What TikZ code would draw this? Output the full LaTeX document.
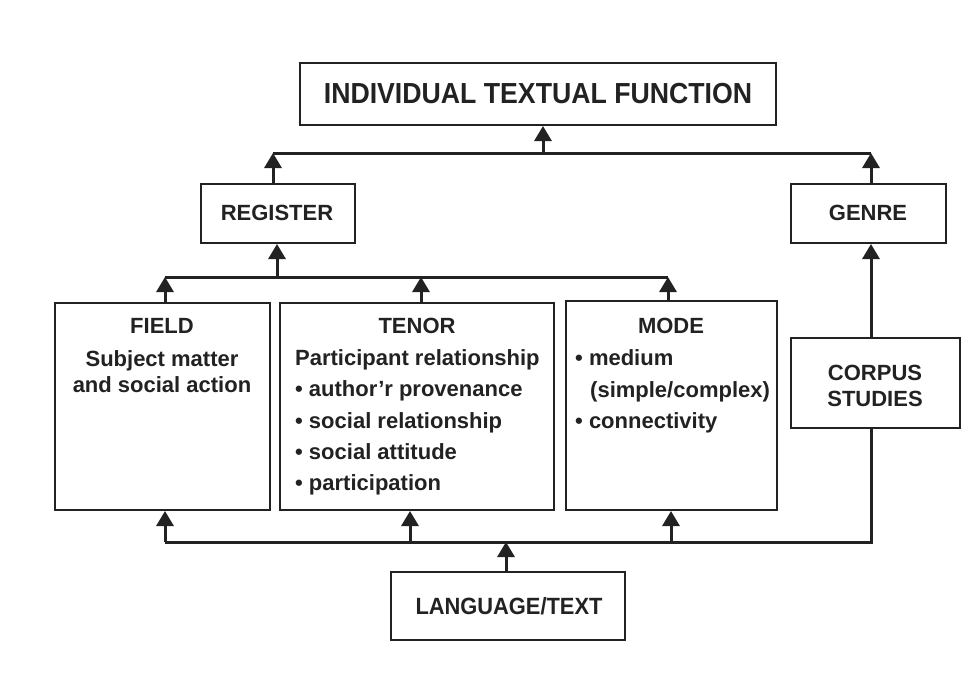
\documentclass[tikz,border=0pt]{standalone}
\usepackage{fontspec}
\setmainfont{Liberation Sans}
\newfontfamily\condfont[FakeStretch=0.92]{Liberation Sans}
\newfontfamily\condfontb[FakeStretch=0.93]{Liberation Sans}
\usetikzlibrary{arrows.meta}
\definecolor{ink}{HTML}{222222}
\begin{document}
\begin{tikzpicture}[x=1pt,y=-1pt,
  box/.style={draw=ink, line width=2pt, inner sep=0pt},
  conn/.style={line width=3pt, draw=ink},
  arr/.style={conn, -{Triangle[width=17pt,length=15pt]}},
  lbl/.style={font=\bfseries\fontsize{22}{26}\selectfont, text=ink, inner sep=0pt},
  big/.style={font=\condfont\bfseries\fontsize{29}{32}\selectfont, text=ink, inner sep=0pt},
  langlbl/.style={font=\condfontb\bfseries\fontsize{23.5}{26}\selectfont, text=ink, inner sep=0pt},
]
\useasboundingbox[fill=white] (0,0) rectangle (974,691);

% boxes
\node[box, minimum width=476pt, minimum height=62pt] (itf) at (538,94) {};
\node[box, minimum width=154pt, minimum height=59pt] (reg) at (278,213.5) {};
\node[box, minimum width=155pt, minimum height=59pt] (genre) at (868.5,213.5) {};
\node[box, minimum width=215pt, minimum height=207pt] (field) at (162.5,406.5) {};
\node[box, minimum width=274pt, minimum height=207pt] (tenor) at (417,406.5) {};
\node[box, minimum width=211pt, minimum height=209pt] (mode) at (671.5,405.5) {};
\node[box, minimum width=169pt, minimum height=90pt] (corpus) at (875.5,383) {};
\node[box, minimum width=234pt, minimum height=68pt] (lang) at (508,606) {};

% texts
\node[big] (titf) at (538,94) {INDIVIDUAL TEXTUAL FUNCTION};
\node[lbl] (treg) at (277,213) {REGISTER};
\node[lbl] (tgenre) at (868,213) {GENRE};
\node[lbl, anchor=base] (tf0) at (162,333) {FIELD};
\node[lbl, anchor=base] (tf1) at (162,366) {Subject matter};
\node[lbl, anchor=base] (tf2) at (162,392) {and social action};
\node[lbl, anchor=base] (tt0) at (417,333) {TENOR};
\node[lbl, anchor=base west] (tt1) at (295,365) {Participant relationship};
\node[lbl, anchor=base west] (tt2) at (295,396) {• author’r provenance};
\node[lbl, anchor=base west] (tt3) at (295,428) {• social relationship};
\node[lbl, anchor=base west] (tt4) at (295,459) {• social attitude};
\node[lbl, anchor=base west] (tt5) at (295,490) {• participation};
\node[lbl, anchor=base] (tm0) at (671,333) {MODE};
\node[lbl, anchor=base west] (tm1) at (575,365) {• medium};
\node[lbl, anchor=base west] (tm2) at (590,397) {(simple/complex)};
\node[lbl, anchor=base west] (tm3) at (575,428) {• connectivity};
\node[lbl, anchor=base] (tc1) at (875,380) {CORPUS};
\node[lbl, anchor=base] (tc2) at (875,406) {STUDIES};
\node[langlbl] (tlang) at (509,606) {LANGUAGE/TEXT};

% top bus
\coordinate (tl) at (273,153);
\coordinate (tr) at (871,153);
\coordinate (tm) at (543,153);
\draw[conn] (tl) -- (tr);
\draw[arr] (tl |- reg.north) -- (tl);
\draw[arr] (tr |- genre.north) -- (tr);
\draw[arr] (tm) -- (tm |- itf.south);

% middle bus
\coordinate (ml) at (165,277);
\coordinate (mr) at (668,277);
\coordinate (mt) at (421,277);
\coordinate (mreg) at (277,277);
\draw[conn] (ml) -- (mr);
\draw[arr] (ml |- field.north) -- (ml);
\draw[arr] (mt |- tenor.north) -- (mt);
\draw[arr] (mr |- mode.north) -- (mr);
\draw[arr] (mreg) -- (mreg |- reg.south);

% corpus to genre
\coordinate (cx) at (871,0);
\draw[arr] (cx |- corpus.north) -- (cx |- genre.south);

% bottom bus
\coordinate (bl) at (165,542);
\coordinate (br) at (871,542);
\coordinate (bt) at (410,542);
\coordinate (bm) at (671,542);
\coordinate (bc) at (506,542);
\draw[conn] (bl) -- (br) -- (cx |- corpus.south);
\draw[arr] (bl) -- (bl |- field.south);
\draw[arr] (bt) -- (bt |- tenor.south);
\draw[arr] (bm) -- (bm |- mode.south);
\draw[arr] (bc |- lang.north) -- (bc);
\end{tikzpicture}
\end{document}
